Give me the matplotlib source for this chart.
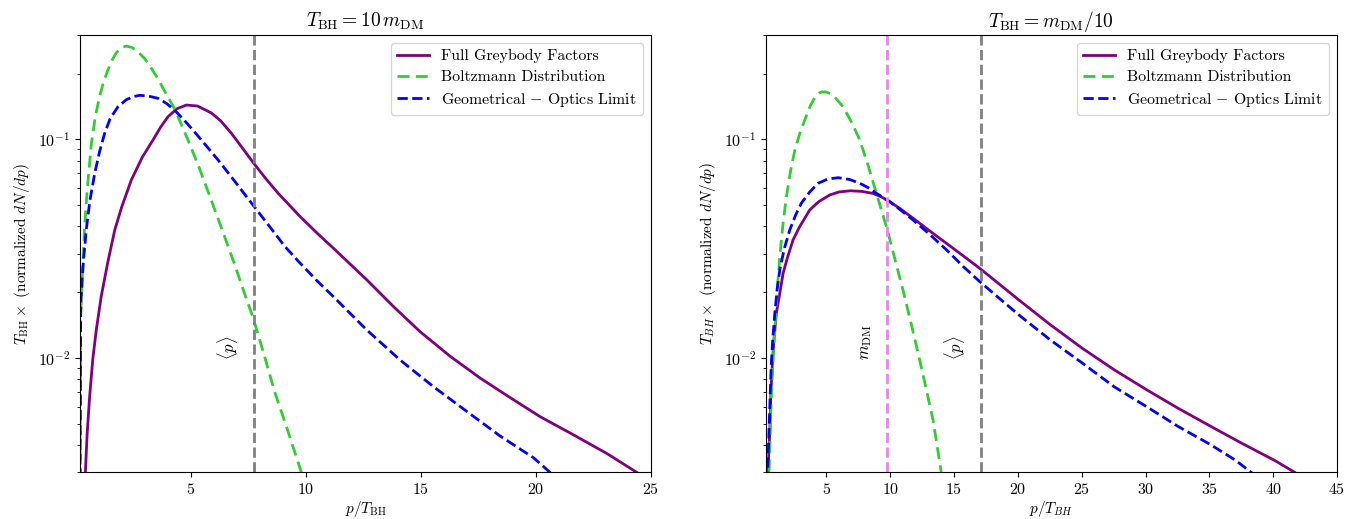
import matplotlib
matplotlib.use("Agg")
import matplotlib.pyplot as plt

plt.rcParams['font.family'] = 'serif'
plt.rcParams['font.serif'] = ['cmr10', 'DejaVu Serif']
plt.rcParams['mathtext.fontset'] = 'cm'
plt.rcParams['axes.formatter.use_mathtext'] = True
plt.rcParams['axes.unicode_minus'] = False
plt.rcParams['font.size'] = 11

# ---------------- Left panel: T_BH = 10 m_DM ----------------
left_full_x = [0.41, 0.50, 0.61, 0.75, 0.90, 1.11, 1.40, 1.70, 2.00, 2.42, 2.90, 3.36, 3.70, 4.01,
               4.40, 4.81, 5.30, 5.90, 6.30, 6.77, 7.25, 7.74, 8.27, 8.80, 9.75, 10.5, 11.2, 12.65,
               13.81, 14.97, 16.27, 17.58, 18.88, 20.18, 21.63, 23.09, 24.39, 24.6]
left_full_y = [0.0028, 0.0045, 0.0067, 0.0100, 0.0135, 0.0191, 0.0275, 0.0385, 0.0490, 0.0652,
               0.0830, 0.0993, 0.1140, 0.1268, 0.1380, 0.1435, 0.1420, 0.1320, 0.1216, 0.1065,
               0.0912, 0.0777, 0.0660, 0.0567, 0.0444, 0.0372, 0.0318, 0.0228, 0.0172, 0.0132,
               0.0102, 0.0081, 0.0066, 0.0054, 0.00446, 0.00366, 0.0030, 0.0029]

left_boltz_x = [0.19, 0.22, 0.30, 0.39, 0.50, 0.68, 0.85, 1.04, 1.22, 1.40, 1.58, 1.77, 2.00, 2.20,
                2.45, 2.71, 3.00, 3.32, 3.58, 3.84, 4.30, 4.88, 5.35, 5.83, 6.35, 6.91, 7.30, 7.71,
                8.15, 8.65, 9.20, 9.81, 9.95]
left_boltz_y = [0.0028, 0.016, 0.025, 0.040, 0.058, 0.095, 0.126, 0.157, 0.184, 0.207, 0.230, 0.249,
                0.263, 0.267, 0.263, 0.251, 0.234, 0.209, 0.189, 0.168, 0.138, 0.0995, 0.075, 0.0550,
                0.0390, 0.0268, 0.0203, 0.0153, 0.0107, 0.0070, 0.00472, 0.0030, 0.0027]

left_geo_x = [0.19, 0.22, 0.24, 0.33, 0.46, 0.62, 0.83, 1.03, 1.26, 1.50, 1.84, 2.20, 2.50, 2.78,
              3.15, 3.58, 3.95, 4.30, 4.70, 5.17, 5.60, 6.19, 6.90, 7.71, 8.40, 9.09, 9.75, 10.5,
              11.2, 12.65, 14.1, 15.55, 17.0, 18.45, 19.9, 20.62, 20.8]
left_geo_y = [0.0028, 0.016, 0.019, 0.027, 0.0385, 0.0525, 0.070, 0.087, 0.1065, 0.1245, 0.141,
              0.1517, 0.1567, 0.159, 0.1578, 0.154, 0.146, 0.136, 0.123, 0.108, 0.0955, 0.0805,
              0.0646, 0.050, 0.0403, 0.0324, 0.0272, 0.0225, 0.0191, 0.01345, 0.0098, 0.0074,
              0.0057, 0.0044, 0.0035, 0.0030, 0.0029]

left_mean_p = 7.74

# ---------------- Right panel: T_BH = m_DM / 10 ----------------
right_full_x = [0.40, 0.43, 0.50, 0.57, 0.65, 0.77, 0.90, 1.08, 1.30, 1.61, 1.95, 2.39, 2.90, 3.70,
                4.40, 5.27, 6.00, 6.88, 7.80, 8.66, 9.30, 9.96, 10.8, 11.79, 13.0, 14.4, 15.7, 17.1,
                20.05, 22.55, 25.04, 27.54, 30.08, 32.53, 35.1, 37.51, 40.14, 41.71, 41.9]
right_full_y = [0.0027, 0.0030, 0.0038, 0.0047, 0.0068, 0.0095, 0.0123, 0.016, 0.019, 0.0244, 0.0288,
                0.0347, 0.0398, 0.0476, 0.0519, 0.0557, 0.0575, 0.0582, 0.0578, 0.0566, 0.0546,
                0.0519, 0.0481, 0.0436, 0.0385, 0.0335, 0.0294, 0.0255, 0.0185, 0.0142, 0.0111,
                0.00885, 0.00717, 0.00591, 0.00488, 0.00409, 0.00340, 0.0030, 0.0029]

right_boltz_x = [0.45, 0.51, 0.60, 0.69, 0.80, 0.96, 1.15, 1.35, 1.60, 1.87, 2.20, 2.53, 2.95, 3.43,
                 3.75, 4.09, 4.40, 4.69, 5.00, 5.30, 5.66, 6.31, 7.00, 7.62, 8.30, 8.92, 9.78, 10.4,
                 11.0, 11.65, 12.31, 12.85, 13.36, 14.0, 14.1]
right_boltz_y = [0.0025, 0.0030, 0.0045, 0.00668, 0.0092, 0.01345, 0.0205, 0.0291, 0.041, 0.0547,
                 0.072, 0.0893, 0.108, 0.128, 0.143, 0.155, 0.1625, 0.165, 0.1645, 0.162, 0.156,
                 0.141, 0.119, 0.0993, 0.075, 0.0567, 0.0385, 0.0279, 0.0205, 0.0143, 0.0098,
                 0.0071, 0.0052, 0.0030, 0.0028]

right_geo_x = [0.38, 0.41, 0.45, 0.51, 0.60, 0.69, 0.80, 0.96, 1.15, 1.35, 1.70, 2.13, 2.60, 3.04,
               3.70, 4.35, 5.10, 5.92, 6.80, 7.62, 8.30, 8.92, 9.96, 10.8, 11.79, 13.0, 14.4, 15.7,
               17.04, 20.05, 22.55, 25.04, 27.54, 30.08, 32.53, 35.1, 36.99, 38.3, 38.5]
right_geo_y = [0.0027, 0.0030, 0.0037, 0.0047, 0.0068, 0.0095, 0.0122, 0.016, 0.0208, 0.0253, 0.0316,
               0.0385, 0.0452, 0.0511, 0.0575, 0.063, 0.0658, 0.0668, 0.0656, 0.063, 0.060, 0.0567,
               0.0519, 0.0476, 0.0428, 0.0372, 0.0313, 0.0263, 0.0223, 0.0158, 0.0121, 0.0095,
               0.0074, 0.0060, 0.00488, 0.00402, 0.00343, 0.0030, 0.0029]

right_mean_p = 17.14
right_mass = 9.78

labels = ['Full Greybody Factors', 'Boltzmann Distribution', r'Geometrical $-$ Optics Limit']
colors = ['purple', 'limegreen', 'blue']

fig = plt.figure(figsize=(13.56, 5.19), dpi=100)
ax1 = fig.add_axes([0.0590, 0.0896, 0.4211, 0.8430])
ax2 = fig.add_axes([0.5647, 0.0896, 0.4213, 0.8430])

for ax, data, xlim in [
    (ax1, [(left_full_x, left_full_y), (left_boltz_x, left_boltz_y), (left_geo_x, left_geo_y)], (0.19, 25)),
    (ax2, [(right_full_x, right_full_y), (right_boltz_x, right_boltz_y), (right_geo_x, right_geo_y)], (0.25, 45)),
]:
    (fx, fy), (bx, by), (gx, gy) = data
    ax.plot(fx, fy, '-', color=colors[0], lw=2, label=labels[0])
    ax.plot(bx, by, color=colors[1], lw=2, dashes=(4.3, 2.3), label=labels[1])
    ax.plot(gx, gy, '--', color=colors[2], lw=2, label=labels[2])
    ax.set_yscale('log')
    ax.set_ylim(3e-3, 3e-1)
    ax.set_xlim(*xlim)
    ax.tick_params(labelsize=11.5)
    ax.legend(loc='upper right', fontsize=11.4, labelspacing=0.42)

ax1.axvline(left_mean_p, color='gray', ls='--', lw=2)
ax1.text(6.6, 0.0098, r'$\langle p \rangle$', rotation=90, ha='center', va='bottom', fontsize=12)
ax1.set_xticks([5, 10, 15, 20, 25])
ax1.set_xlabel(r'$p/T_{\rm BH}$', fontsize=11, labelpad=1)
ax1.set_ylabel(r'$T_{\rm BH} \times$ (normalized $dN/dp$)', fontsize=11)
ax1.set_title(r'$T_{\rm BH} = 10\, m_{\rm DM}$', fontsize=14)

ax2.axvline(right_mass, color='violet', ls='--', lw=2)
ax2.axvline(right_mean_p, color='gray', ls='--', lw=2)
ax2.text(8.13, 0.0098, r'$m_{\rm DM}$', rotation=90, ha='center', va='bottom', fontsize=12)
ax2.text(15.05, 0.0098, r'$\langle p \rangle$', rotation=90, ha='center', va='bottom', fontsize=12)
ax2.set_xticks([5, 10, 15, 20, 25, 30, 35, 40, 45])
ax2.set_xlabel(r'$p/T_{BH}$', fontsize=11, labelpad=1)
ax2.set_ylabel(r'$T_{BH} \times$ (normalized $dN/dp$)', fontsize=11)
ax2.set_title(r'$T_{\rm BH} = m_{\rm DM}/10$', fontsize=14)

fig.savefig('out.png', dpi=100)
